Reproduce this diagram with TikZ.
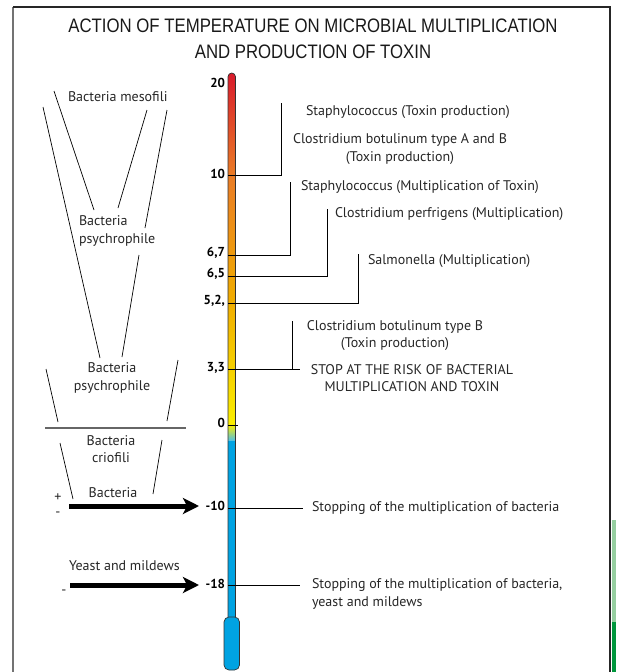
\documentclass[tikz,border=0pt]{standalone}
\usepackage{fontspec}
\setmainfont{PT Sans}
\newfontfamily\titlefont[FakeStretch=0.86]{Liberation Sans}
\usepackage{xcolor}
\usepackage{tikz}
\usetikzlibrary{arrows.meta, positioning}

\definecolor{thRed}{RGB}{216,24,44}
\definecolor{thOrange}{RGB}{234,124,38}
\definecolor{thAmber}{RGB}{240,172,0}
\definecolor{thYellow}{RGB}{250,238,0}
\definecolor{thBlue}{RGB}{0,163,226}
\definecolor{stripLight}{RGB}{150,206,160}
\definecolor{stripDark}{RGB}{0,150,60}

\begin{document}
\begin{tikzpicture}[
    x=1pt, y=-1pt,
    every node/.style={inner sep=0pt, outer sep=0pt},
    title/.style={font=\titlefont\fontsize{19.5}{26}\selectfont, text=black!90, anchor=base},
    txt/.style={font=\fontsize{14}{17.5}\selectfont, text=black!85},
    num/.style={font=\bfseries\fontsize{13}{14}\selectfont, anchor=east},
    leader/.style={line width=0.6pt},
    pointer/.style={line width=0.7pt},
    bigarrow/.style={line width=5pt, -{Stealth[length=16pt, width=16pt, inset=4pt]}}
]
    \useasboundingbox (0,0) rectangle (616,672);

    % frame and side strip
    \fill[stripLight] (611.5,520) rectangle (616,622);
    \fill[stripDark] (611.5,622) rectangle (616,672);
    \draw[black!55, line width=1.2pt] (13,672) -- (13,7);
    \draw[black!85, line width=1.2pt] (13,7) -- (610,7) -- (610,672);

    \node[title] (title1) at (313,32) {ACTION OF TEMPERATURE ON MICROBIAL MULTIPLICATION};
    \node[title, below=26pt of title1.base, anchor=base] (title2) {AND PRODUCTION OF TOXIN};

    % thermometer
    \begin{scope}
        \clip (228,617) -- (228,76.75) arc[start angle=180, end angle=360, radius=3.75] -- (235.5,617) -- cycle;
        \shade[top color=thRed, bottom color=thOrange] (226,70) rectangle (238,175);
        \shade[top color=thOrange, bottom color=thAmber] (226,175) rectangle (238,300);
        \shade[top color=thAmber, bottom color=thYellow] (226,300) rectangle (238,425);
        \shade[top color=thYellow, middle color=thBlue!35!green!20, bottom color=thBlue!70] (226,425) rectangle (238,441);
        \fill[thBlue] (226,441) rectangle (238,620);
    \end{scope}
    \draw[black!80, line width=0.7pt] (228,617) -- (228,76.75) arc[start angle=180, end angle=360, radius=3.75] -- (235.5,617);
    \draw[black!80, line width=0.7pt, fill=thBlue, rounded corners=5pt] (224,617) rectangle (239.5,670);

    % scale values
    \node[num] (v20) at (225,83) {20};
    \node[num] (v10) at (225,174) {10};
    \node[num] (v67) at (225,253) {6,7};
    \node[num] (v65) at (225,274) {6,5};
    \node[num] (v52) at (225,301) {5,2,};
    \node[num] (v33) at (225,368) {3,3};
    \node[num] (v0) at (225,423) {0};
    \node[num] (vm10) at (225,506) {-10};
    \node[num] (vm18) at (225,584) {-18};

    % ticks on the tube
    \coordinate (t10) at (228,175);
    \coordinate (t67) at (228,255);
    \coordinate (t65) at (228,276);
    \coordinate (t52) at (228,303);
    \coordinate (t33) at (228,369);
    \coordinate (t0) at (228,425);
    \coordinate (tm10) at (228,508);
    \coordinate (tm18) at (228,585);

    % leader ends
    \coordinate (c10) at (281,103);
    \coordinate (c67) at (290,182);
    \coordinate (c65) at (327,209);
    \coordinate (c52) at (358,254);
    \coordinate (c33) at (292,321);
    \coordinate (e33) at (300,369);
    \coordinate (e0) at (238,425);
    \coordinate (em10) at (303,508);
    \coordinate (em18) at (300,585);

    \draw[leader] (t10) -| (c10);
    \draw[leader] (t67) -| (c67);
    \draw[leader] (t65) -| (c65);
    \draw[leader] (t52) -| (c52);
    \draw[leader] (t33) -- (e33);
    \draw[leader] (c33) -- (c33 |- t33);
    \draw[leader] (t0) -- (e0);
    \draw[leader] (tm10) -- (em10);
    \draw[leader] (tm18) -- (em18);

    % right labels
    \node[txt, anchor=west] (staphT) at (306,112) {Staphylococcus (Toxin production)};
    \node[txt, align=center] (clostAB) at (400,149) {Clostridium botulinum type A and B\\(Toxin production)};
    \node[txt, anchor=west] (staphM) at (301,187) {Staphylococcus (Multiplication of Toxin)};
    \node[txt, anchor=west] (perf) at (335,214) {Clostridium perfrigens (Multiplication)};
    \node[txt, anchor=west] (salm) at (368,261) {Salmonella (Multiplication)};
    \node[txt, align=center] (clostB) at (395,335.5) {Clostridium botulinum type B\\(Toxin production)};
    \node[txt, align=center] (stop) at (412,378) {STOP AT THE RISK OF BACTERIAL\\MULTIPLICATION AND TOXIN};
    \node[txt, anchor=west] (stopB) at (312,508) {Stopping of the multiplication of bacteria};
    \node[txt, anchor=west, align=left] (stopBY) at (312,594) {Stopping of the multiplication of bacteria,\\yeast and mildews};

    % left groups
    \node[txt, anchor=west] (meso) at (68,97) {Bacteria mesofili};
    \node[txt, anchor=west, align=left] (psy1) at (79,231) {Bacteria\\psychrophile};
    \node[txt, align=center] (psy2) at (112,378) {Bacteria\\psychrophile};
    \node[txt, align=center] (crio) at (111,449) {Bacteria\\criofili};
    \node[txt] (bact) at (113,493) {Bacteria};
    \node[txt, anchor=west] (yeast) at (69,566) {Yeast and mildews};
    \node[txt] (plus) at (58,498) {+};
    \node[txt] (minus1) at (58,514) {-};
    \node[txt] (minus2) at (64,592) {-};

    \draw[pointer] (54,91) -- (94,210);
    \draw[pointer] (147,110) -- (118,208);
    \draw[pointer] (43,107) -- (100,358);
    \draw[pointer] (167,110) -- (145,228);
    \draw[pointer] (139,255) -- (122,357);
    \draw[pointer] (46,369) -- (58,422);
    \draw[pointer] (178,360) -- (167,421);
    \draw[black!60, line width=1.5pt] (45,428) -- (186,428);
    \draw[pointer] (60,443) -- (73,499);
    \draw[pointer] (162,440) -- (153,494);

    % stop arrows
    \coordinate (a1) at (69,506);
    \coordinate (b1) at (199,506);
    \coordinate (a2) at (70,585);
    \coordinate (b2) at (199,585);
    \draw[bigarrow] (a1) -- (b1);
    \draw[bigarrow] (a2) -- (b2);
\end{tikzpicture}
\end{document}
